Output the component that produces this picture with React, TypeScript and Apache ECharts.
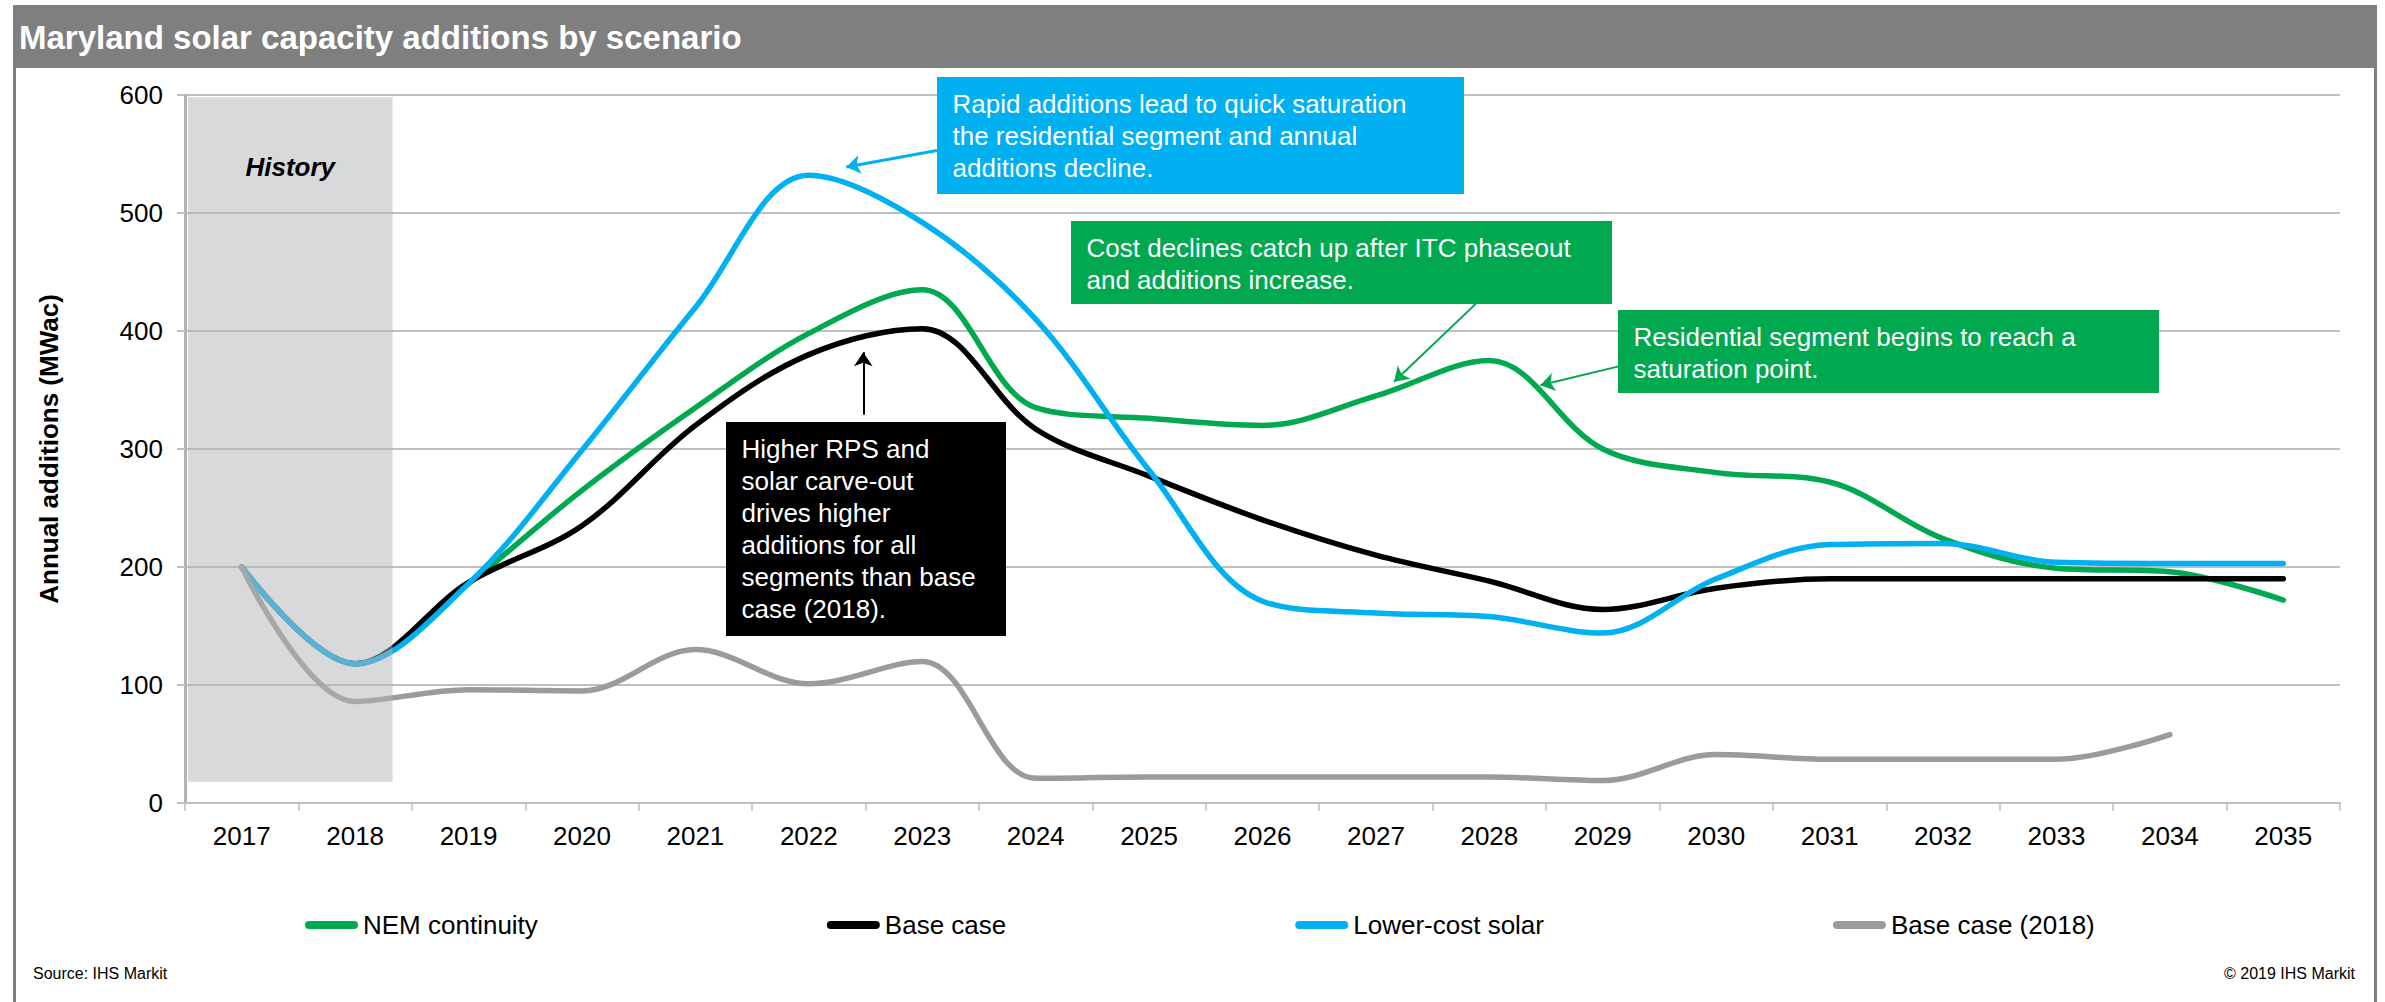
import React, { useEffect, useRef } from 'react';
import * as echarts from 'echarts';

const FONT = '"Liberation Sans", Arial, sans-serif';

const categories = ['2017', '2018', '2019', '2020', '2021', '2022', '2023', '2024', '2025', '2026', '2027', '2028', '2029', '2030', '2031', '2032', '2033', '2034', '2035'];

const nemContinuity = [200, 118, 186, 265, 335, 398, 435, 335, 326, 320, 345, 375, 300, 280, 272, 224, 199, 196, 172];
const baseCase = [200, 118, 187, 235, 320, 380, 402, 317, 277, 240, 210, 188, 164, 182, 190, 190, 190, 190, 190];
const lowerCostSolar = [200, 118, 186, 299, 420, 532, 492, 410, 282, 171, 161, 158, 144, 190, 219, 220, 204, 203, 203];
const baseCase2018 = [200, 86, 96, 95, 130, 101, 120, 21, 22, 22, 22, 22, 19, 41, 37, 37, 37, 58, null];

const seriesNames = ['NEM continuity', 'Base case', 'Lower-cost solar', 'Base case (2018)'];
const seriesColors = ['#00a84f', '#000000', '#00b0f0', '#9b9b9b'];

const yMin = 0;
const yMax = 600;
const yInterval = 100;

// History band, in (category index, MWac) units
const historyBand = { fromX: -0.475, toX: 1.33, low: 18, high: 598 };

// Annotation arrows, in (category index, MWac) units
const arrows = [
  { from: [6.13, 553], to: [5.33, 539], color: '#00b0f0', width: 3 },
  { from: [5.48, 329], to: [5.48, 382], color: '#000000', width: 2 },
  { from: [10.88, 423], to: [10.16, 357], color: '#00a84f', width: 2 },
  { from: [12.14, 370], to: [11.45, 354], color: '#00a84f', width: 2 },
];

const notes = [
  { x: 937, y: 77, w: 527, h: 117, color: '#00b0f0', lines: ['Rapid additions lead to quick saturation', 'the residential segment and annual', 'additions decline.'] },
  { x: 1071, y: 221, w: 541, h: 83, color: '#00a84f', lines: ['Cost declines catch up after ITC phaseout', 'and additions increase.'] },
  { x: 1618, y: 310, w: 541, h: 83, color: '#00a84f', lines: ['Residential segment begins to reach a', 'saturation point.'] },
  { x: 726, y: 422, w: 280, h: 214, color: '#000000', lines: ['Higher RPS and', 'solar carve-out', 'drives higher', 'additions for all', 'segments than base', 'case (2018).'] },
];

export default function App() {
  const ref = useRef<HTMLDivElement>(null);

  useEffect(() => {
    document.body.style.margin = '0';
    const chart = echarts.init(ref.current!, undefined, { renderer: 'svg' });

    const dataSeries = [nemContinuity, baseCase, lowerCostSolar, baseCase2018].map((d, i) => ({
      name: seriesNames[i],
      type: 'line',
      data: d,
      smooth: 0.35,
      symbol: 'none',
      showSymbol: false,
      connectNulls: false,
      z: 2,
      lineStyle: { color: seriesColors[i], width: 5.5, cap: 'round', join: 'round' },
      itemStyle: { color: seriesColors[i] },
      emphasis: { disabled: true },
    }));

    const noteGraphics = notes.map((n) => ({
      type: 'group',
      z: 100,
      children: [
        { type: 'rect', shape: { x: n.x, y: n.y, width: n.w, height: n.h }, style: { fill: n.color }, z: 100 },
        {
          type: 'text',
          z: 101,
          style: {
            text: n.lines.join('\n'),
            x: n.x + 15.5,
            y: n.y + 11,
            fill: '#ffffff',
            fontSize: 26,
            fontFamily: FONT,
            lineHeight: 32,
            textAlign: 'left',
            textVerticalAlign: 'top',
            verticalAlign: 'top',
          },
        },
      ],
    }));

    chart.setOption({
      animation: false,
      backgroundColor: '#ffffff',
      textStyle: { fontFamily: FONT },
      grid: { left: 185, right: 45, top: 95, bottom: 199, containLabel: false },
      legend: {
        data: seriesNames,
        left: 300,
        top: 907,
        itemWidth: 53,
        itemHeight: 8,
        itemGap: 289,
        icon: 'path://M4 0 H49 A4 4 0 0 1 49 8 H4 A4 4 0 0 1 4 0 Z',
        selectedMode: false,
        textStyle: { fontSize: 26, color: '#000', fontFamily: FONT },
      },
      xAxis: [
        {
          type: 'category',
          data: categories,
          boundaryGap: true,
          axisLine: { show: true, onZero: false, lineStyle: { color: '#bfbfbf', width: 2 } },
          axisTick: { show: true, length: 8, lineStyle: { color: '#bfbfbf', width: 1.5 } },
          axisLabel: { fontSize: 26, color: '#000', margin: 20, fontFamily: FONT },
          splitLine: { show: false },
        },
        { type: 'value', min: -0.5, max: 18.5, show: false, axisLine: { onZero: false } },
      ],
      yAxis: {
        type: 'value',
        min: yMin,
        max: yMax,
        interval: yInterval,
        name: 'Annual additions (MWac)',
        nameLocation: 'middle',
        nameGap: 123,
        nameTextStyle: { fontSize: 26, fontWeight: 'bold', color: '#000', fontFamily: FONT },
        axisLine: { show: true, onZero: false, lineStyle: { color: '#b3b3b3', width: 3 } },
        axisTick: { show: true, length: 8, lineStyle: { color: '#bfbfbf', width: 2 } },
        axisLabel: { fontSize: 26, color: '#000', margin: 22, fontFamily: FONT },
        splitLine: { show: true, lineStyle: { color: '#bfbfbf', width: 2 } },
      },
      series: [
        ...dataSeries,
        {
          name: 'annotations',
          type: 'line',
          xAxisIndex: 1,
          yAxisIndex: 0,
          data: [],
          silent: true,
          symbol: 'none',
          markArea: {
            silent: true,
            z: 10,
            itemStyle: { color: 'rgba(178,180,184,0.5)' },
            label: {
              show: true,
              position: 'insideTop',
              distance: 57,
              formatter: 'History',
              fontSize: 26,
              fontStyle: 'italic',
              fontWeight: 'bold',
              color: '#000',
              fontFamily: FONT,
            },
            data: [[
              { coord: [historyBand.fromX, historyBand.high] },
              { coord: [historyBand.toX, historyBand.low] },
            ]],
          },
          markLine: {
            silent: true,
            z: 20,
            symbol: ['none', 'arrow'],
            symbolSize: 14,
            label: { show: false },
            emphasis: { disabled: true },
            data: arrows.map((a) => [
              { coord: a.from, lineStyle: { color: a.color, width: a.width, type: 'solid' } },
              { coord: a.to },
            ]),
          },
        },
      ],
      graphic: [
        { type: 'rect', z: 50, shape: { x: 14.5, y: 6.5, width: 2361, height: 1010 }, style: { fill: 'none', stroke: '#7f7f7f', lineWidth: 3 } },
        { type: 'rect', z: 51, shape: { x: 13, y: 5, width: 2364, height: 63 }, style: { fill: '#7f7f7f' } },
        {
          type: 'text', z: 52,
          style: { text: 'Maryland solar capacity additions by scenario', x: 19, y: 37, fill: '#ffffff', fontSize: 33, fontWeight: 'bold', fontFamily: FONT, verticalAlign: 'middle', textVerticalAlign: 'middle' },
        },
        ...noteGraphics,
        {
          type: 'text', z: 52,
          style: { text: 'Source: IHS Markit', x: 33, y: 973, fill: '#000', fontSize: 16, fontFamily: FONT, verticalAlign: 'middle', textVerticalAlign: 'middle' },
        },
        {
          type: 'text', z: 52,
          style: { text: '\u00a9 2019 IHS Markit', x: 2355, y: 973, fill: '#000', fontSize: 16, fontFamily: FONT, textAlign: 'right', verticalAlign: 'middle', textVerticalAlign: 'middle' },
        },
      ],
    });

    return () => chart.dispose();
  }, []);

  return (
    <div
      ref={ref}
      style={{ position: 'fixed', left: 0, top: 0, width: 2385, height: 1002, background: '#fff' }}
    />
  );
}
